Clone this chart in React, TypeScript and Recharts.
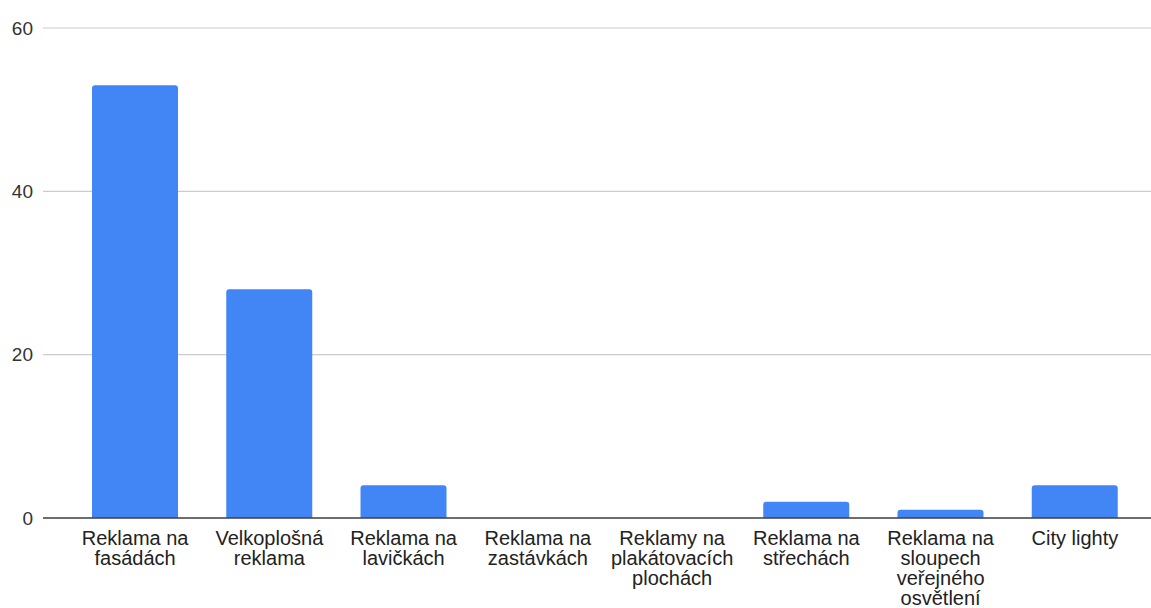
import React from 'react';
import {
  BarChart,
  Bar,
  XAxis,
  YAxis,
  CartesianGrid,
  ReferenceLine,
} from 'recharts';

// Categories and values
const CATEGORIES = [
  'Reklama na fasádách',
  'Velkoplošná reklama',
  'Reklama na lavičkách',
  'Reklama na zastávkách',
  'Reklamy na plakátovacích plochách',
  'Reklama na střechách',
  'Reklama na sloupech veřejného osvětlení',
  'City lighty',
];
const VALUES = [53, 28, 4, 0, 0, 2, 1, 4];
const Y_TICKS = [0, 20, 40, 60];

const data = CATEGORIES.map((name, i) => ({ name, value: VALUES[i] }));

const FONT = '"Liberation Sans", Arial, sans-serif';
const LABEL_SIZE = 20;
const LABEL_WIDTH = 128;

// greedy word wrap, measured with a canvas
const canvas = typeof document !== 'undefined' ? document.createElement('canvas') : null;
function wrap(label: string) {
  const ctx = canvas?.getContext('2d');
  if (!ctx) return [label];
  ctx.font = `${LABEL_SIZE}px ${FONT}`;
  const lines: string[] = [];
  let cur = '';
  for (const w of label.split(' ')) {
    const next = cur ? `${cur} ${w}` : w;
    if (cur && ctx.measureText(next).width > LABEL_WIDTH) {
      lines.push(cur);
      cur = w;
    } else {
      cur = next;
    }
  }
  if (cur) lines.push(cur);
  return lines;
}

const CategoryTick = ({ x, y, payload }: any) => (
  <text
    x={x}
    y={y}
    textAnchor="middle"
    fontSize={LABEL_SIZE}
    fontFamily={FONT}
    fill="#222222"
  >
    {wrap(payload.value).map((line, i) => (
      <tspan key={i} x={x} y={y + 19 + i * 20}>
        {line}
      </tspan>
    ))}
  </text>
);

export default function App() {
  return (
    <div style={{ position: 'fixed', left: 0, top: 0, width: 1151, height: 608, background: '#FFFFFF' }}>
      <BarChart
        width={1151}
        height={608}
        data={data}
        margin={{ top: 28, right: 0, left: 0, bottom: 0 }}
        barSize={86}
      >
        <CartesianGrid vertical={false} stroke="#CCCCCC" strokeWidth={1.2} />
        <XAxis
          dataKey="name"
          axisLine={false}
          tickLine={false}
          interval={0}
          height={90}
          padding={{ left: 25, right: 9 }}
          tick={<CategoryTick />}
        />
        <YAxis
          width={43}
          domain={[0, 60]}
          ticks={Y_TICKS}
          axisLine={false}
          tickLine={false}
          tickMargin={4}
          tick={{ fontSize: 19, fill: '#333333', fontFamily: FONT }}
        />
        <Bar dataKey="value" fill="#4285F4" radius={[3, 3, 0, 0]} isAnimationActive={false} />
        <ReferenceLine y={0} stroke="#444444" strokeWidth={1.5} />
      </BarChart>
    </div>
  );
}
